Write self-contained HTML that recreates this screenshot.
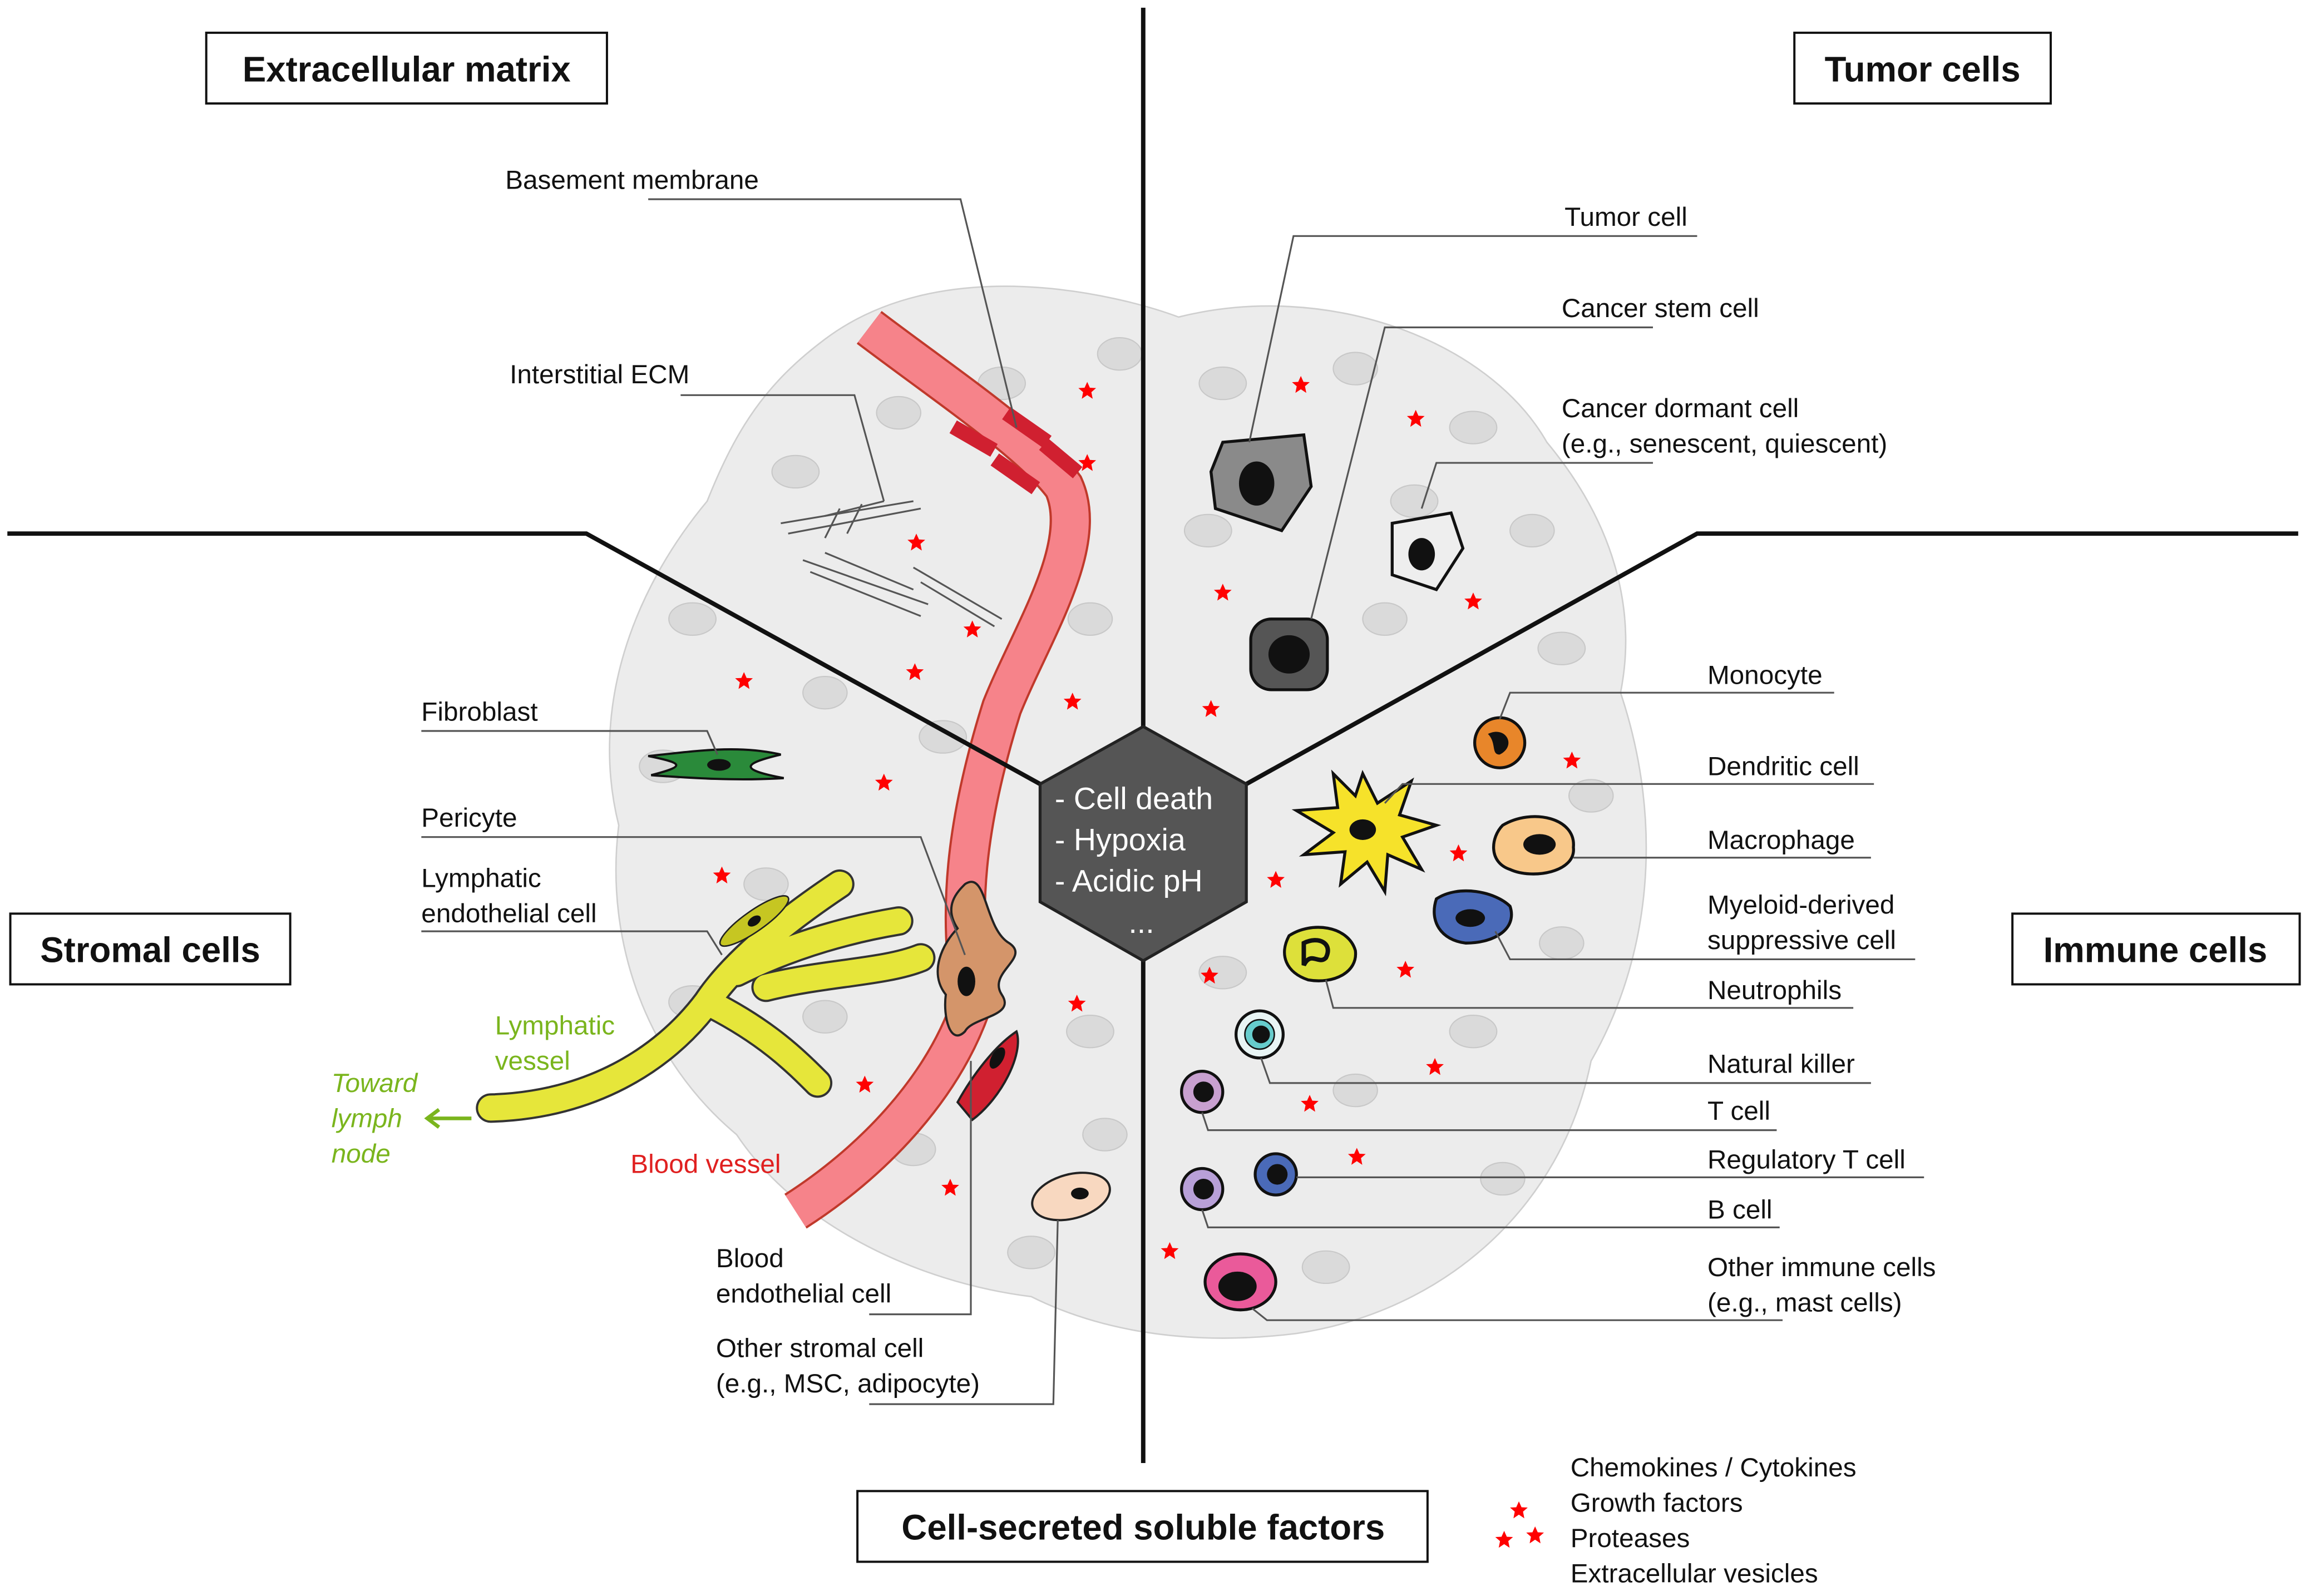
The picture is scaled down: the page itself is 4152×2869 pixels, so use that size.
<!DOCTYPE html>
<html><head><meta charset="utf-8"><style>
html,body{margin:0;padding:0;background:#fff;}
svg{display:block;}
text{font-family:"Liberation Sans",sans-serif;}
</style></head><body>
<svg width="4152" height="2869" viewBox="0 0 1568 1083" xmlns="http://www.w3.org/2000/svg">
<defs>
<path id="st" d="M0,-6 L1.8,-2 6,-1.8 2.8,1 3.7,5.5 0,3 -3.7,5.5 -2.8,1 -6,-1.8 -1.8,-2Z" fill="#f00"/>
</defs>
<rect width="1568" height="1083" fill="#fff"/>
<!-- cell cluster background -->
<path d="M560,230 C640,170 760,200 800,215 C900,190 1010,230 1050,300 C1100,360 1110,420 1100,470 C1130,560 1120,650 1080,720 C1060,820 980,890 880,905 C800,915 740,900 700,880 C620,870 540,830 500,770 C440,720 410,640 420,560 C400,480 430,400 480,340 C500,290 520,260 560,230Z" fill="#ececec" stroke="#cfcfcf" stroke-width="1"/>
<g fill="#dadada" stroke="#c8c8c8" stroke-width="0.8">
<ellipse cx="540" cy="320" rx="16" ry="11"/><ellipse cx="610" cy="280" rx="15" ry="11"/><ellipse cx="680" cy="260" rx="16" ry="11"/><ellipse cx="760" cy="240" rx="15" ry="11"/>
<ellipse cx="830" cy="260" rx="16" ry="11"/><ellipse cx="920" cy="250" rx="15" ry="11"/><ellipse cx="1000" cy="290" rx="16" ry="11"/><ellipse cx="1040" cy="360" rx="15" ry="11"/>
<ellipse cx="470" cy="420" rx="16" ry="11"/><ellipse cx="560" cy="470" rx="15" ry="11"/><ellipse cx="640" cy="500" rx="16" ry="11"/><ellipse cx="740" cy="420" rx="15" ry="11"/>
<ellipse cx="820" cy="360" rx="16" ry="11"/><ellipse cx="940" cy="420" rx="15" ry="11"/><ellipse cx="1060" cy="440" rx="16" ry="11"/><ellipse cx="1080" cy="540" rx="15" ry="11"/>
<ellipse cx="450" cy="520" rx="16" ry="11"/><ellipse cx="520" cy="600" rx="15" ry="11"/><ellipse cx="470" cy="680" rx="16" ry="11"/><ellipse cx="560" cy="690" rx="15" ry="11"/>
<ellipse cx="740" cy="700" rx="16" ry="11"/><ellipse cx="750" cy="770" rx="15" ry="11"/><ellipse cx="700" cy="850" rx="16" ry="11"/><ellipse cx="620" cy="780" rx="15" ry="11"/>
<ellipse cx="830" cy="660" rx="16" ry="11"/><ellipse cx="920" cy="740" rx="15" ry="11"/><ellipse cx="1000" cy="700" rx="16" ry="11"/><ellipse cx="1060" cy="640" rx="15" ry="11"/>
<ellipse cx="900" cy="860" rx="16" ry="11"/><ellipse cx="1020" cy="800" rx="15" ry="11"/><ellipse cx="800" cy="560" rx="15" ry="11"/><ellipse cx="960" cy="340" rx="16" ry="11"/>
</g>
<!-- ECM fibers -->
<g stroke="#555" stroke-width="1.2">
<line x1="530" y1="355" x2="620" y2="340"/><line x1="535" y1="362" x2="625" y2="345"/><line x1="560" y1="350" x2="600" y2="340"/>
<line x1="545" y1="380" x2="630" y2="410"/><line x1="550" y1="388" x2="625" y2="418"/><line x1="560" y1="375" x2="620" y2="400"/>
<line x1="620" y1="385" x2="680" y2="420"/><line x1="625" y1="395" x2="675" y2="425"/><line x1="570" y1="345" x2="560" y2="365"/><line x1="585" y1="342" x2="575" y2="362"/>
</g>
<!-- blood vessel -->
<path d="M590,222 C640,260 700,300 722,330 C740,370 700,430 680,480 C655,560 650,620 660,680 C640,740 590,790 540,822" fill="none" stroke="#c0392b" stroke-width="28"/>
<path d="M590,222 C640,260 700,300 722,330 C740,370 700,430 680,480 C655,560 650,620 660,680 C640,740 590,790 540,822" fill="none" stroke="#f6838a" stroke-width="25"/>
<g fill="#d02030"><rect x="645" y="292" width="32" height="10" transform="rotate(30 660 297)"/><rect x="680" y="285" width="34" height="10" transform="rotate(35 697 290)"/><rect x="672" y="317" width="34" height="10" transform="rotate(35 690 322)"/><rect x="705" y="306" width="30" height="10" transform="rotate(40 720 311)"/></g>
<!-- pericyte -->
<path d="M655,600 C670,590 668,630 685,640 C700,650 670,660 680,675 C690,690 660,690 655,700 C645,710 640,690 642,675 C630,660 640,640 650,630 C640,615 650,605 655,600Z" fill="#d4956a" stroke="#222" stroke-width="1.5"/>
<ellipse cx="656" cy="666" rx="6" ry="10" fill="#111"/>
<path d="M650,748 C660,730 675,710 690,700 C695,715 680,745 660,760 Z" fill="#d02030" stroke="#222" stroke-width="1.5"/>
<ellipse cx="677" cy="718" rx="4" ry="8" fill="#111" transform="rotate(30 677 718)"/>
<!-- lymphatic vessel -->
<path d="M333,752 C400,750 450,720 480,680 C500,650 540,620 570,600 M480,680 C520,700 540,720 555,735 M500,660 C540,640 580,630 610,625 M520,670 C560,660 600,660 625,650" fill="none" stroke="#333" stroke-width="20" stroke-linecap="round"/>
<path d="M333,752 C400,750 450,720 480,680 C500,650 540,620 570,600 M480,680 C520,700 540,720 555,735 M500,660 C540,640 580,630 610,625 M520,670 C560,660 600,660 625,650" fill="none" stroke="#e6e63a" stroke-width="17" stroke-linecap="round"/>
<ellipse cx="512" cy="625" rx="28" ry="7" fill="#c6c622" stroke="#222" transform="rotate(-35 512 625)"/>
<ellipse cx="512" cy="625" rx="5" ry="3" fill="#111" transform="rotate(-35 512 625)"/>
<!-- fibroblast -->
<path d="M440,513 C470,510 500,505 530,512 C505,518 500,522 532,528 C500,530 470,528 442,526 C465,520 465,518 440,513Z" fill="#2a8a3a" stroke="#111" stroke-width="1.5"/>
<ellipse cx="488" cy="519" rx="8" ry="4" fill="#111"/>
<!-- other stromal -->
<ellipse cx="727" cy="812" rx="27" ry="15" fill="#f8d8c0" stroke="#222" stroke-width="1.5" transform="rotate(-15 727 812)"/>
<ellipse cx="733" cy="810" rx="6" ry="4" fill="#111"/>
<!-- tumor cells -->
<path d="M830,300 L885,295 L890,330 L870,360 L825,345 L822,320Z" fill="#8a8a8a" stroke="#111" stroke-width="2"/>
<ellipse cx="853" cy="328" rx="12" ry="15" fill="#111"/>
<path d="M945,355 L985,348 L993,372 L975,400 L945,390Z" fill="#eee" stroke="#111" stroke-width="2"/>
<ellipse cx="965" cy="376" rx="9" ry="11" fill="#111"/>
<rect x="849" y="420" width="52" height="48" rx="14" fill="#555" stroke="#111" stroke-width="2"/>
<ellipse cx="875" cy="444" rx="14" ry="13" fill="#111"/>
<!-- immune cells -->
<circle cx="1018" cy="504" r="17" fill="#e8862a" stroke="#111" stroke-width="2"/><path d="M1010,498 C1022,492 1030,506 1018,512 C1012,512 1016,504 1010,498Z" fill="#111"/>
<path d="M925,525 L935,545 L958,530 L950,553 L975,560 L952,568 L965,590 L942,580 L940,605 L928,585 L910,600 L913,578 L885,580 L905,565 L880,550 L908,548 L905,525 L920,540Z" fill="#f6e22a" stroke="#111" stroke-width="2"/>
<ellipse cx="925" cy="563" rx="9" ry="7" fill="#111"/>
<path d="M1020,560 C1040,548 1070,555 1068,575 C1070,592 1040,597 1025,590 C1010,585 1012,568 1020,560Z" fill="#f8c88a" stroke="#111" stroke-width="2"/>
<ellipse cx="1045" cy="573" rx="11" ry="7" fill="#111"/>
<path d="M975,610 C990,600 1015,605 1025,615 C1030,630 1015,640 995,640 C978,638 970,625 975,610Z" fill="#4a6ab8" stroke="#111" stroke-width="2"/>
<ellipse cx="998" cy="623" rx="10" ry="6" fill="#111"/>
<path d="M875,635 C890,625 915,628 920,645 C922,660 905,668 888,665 C873,660 868,648 875,635Z" fill="#dde03a" stroke="#111" stroke-width="2"/>
<path d="M885,640 C895,635 905,640 900,650 C895,655 890,645 885,655Z" fill="none" stroke="#111" stroke-width="3"/>
<circle cx="855" cy="702" r="16" fill="#e8f4f4" stroke="#111" stroke-width="2"/><circle cx="855" cy="702" r="10" fill="#6cc" stroke="#111"/><circle cx="856" cy="702" r="6" fill="#111"/>
<circle cx="816" cy="741" r="14" fill="#c8a0d0" stroke="#111" stroke-width="2"/><circle cx="817" cy="741" r="7" fill="#111"/>
<circle cx="866" cy="797" r="14" fill="#4a6ab8" stroke="#111" stroke-width="2"/><circle cx="867" cy="797" r="7" fill="#111"/>
<circle cx="816" cy="807" r="14" fill="#b8a0d8" stroke="#111" stroke-width="2"/><circle cx="817" cy="807" r="7" fill="#111"/>
<ellipse cx="842" cy="870" rx="24" ry="19" fill="#ea5a9a" stroke="#111" stroke-width="2"/><ellipse cx="840" cy="873" rx="13" ry="10" fill="#111"/>
<!-- stars -->
<g>
<use href="#st" x="738" y="265"/><use href="#st" x="738" y="314"/><use href="#st" x="622" y="368"/><use href="#st" x="660" y="427"/><use href="#st" x="621" y="456"/><use href="#st" x="505" y="462"/><use href="#st" x="728" y="476"/><use href="#st" x="600" y="531"/><use href="#st" x="490" y="594"/>
<use href="#st" x="587" y="736"/><use href="#st" x="731" y="681"/><use href="#st" x="645" y="806"/><use href="#st" x="883" y="261"/><use href="#st" x="961" y="284"/><use href="#st" x="830" y="402"/><use href="#st" x="1000" y="408"/><use href="#st" x="822" y="481"/>
<use href="#st" x="1067" y="516"/><use href="#st" x="990" y="579"/><use href="#st" x="866" y="597"/><use href="#st" x="954" y="658"/><use href="#st" x="821" y="662"/><use href="#st" x="974" y="724"/><use href="#st" x="889" y="749"/><use href="#st" x="921" y="785"/><use href="#st" x="794" y="849"/>
<use href="#st" x="1031" y="1025"/><use href="#st" x="1021" y="1045"/><use href="#st" x="1042" y="1042"/>
</g>
<!-- dividing lines -->
<g stroke="#111" stroke-width="3" fill="none">
<line x1="776" y1="5" x2="776" y2="495"/><line x1="776" y1="650" x2="776" y2="993"/>
<polyline points="5,362 398,362 706,532"/><polyline points="1560,362 1152,362 846,532"/>
</g>
<!-- hexagon -->
<polygon points="776,493 846,532 846,612 776,652 706,612 706,532" fill="#555" stroke="#222" stroke-width="2"/>
<g fill="#fff" font-size="21"><text x="716" y="549">- Cell death</text><text x="716" y="577">- Hypoxia</text><text x="716" y="605">- Acidic pH</text><text x="766" y="633">...</text></g>
<!-- leader lines -->
<g stroke="#555" stroke-width="1.2" fill="none">
<polyline points="440,135 652,135 690,290"/><polyline points="462,268 580,268 600,340"/>
<polyline points="1152,160 878,160 848,300"/><polyline points="1122,222 940,222 890,420"/><polyline points="1122,314 975,314 965,345"/>
<polyline points="1245,470 1025,470 1018,488"/><polyline points="1272,532 952,532 940,545"/><polyline points="1270,582 1068,582"/>
<polyline points="1300,651 1025,651 1015,632"/><polyline points="1258,684 905,684 900,665"/><polyline points="1270,735 862,735 856,718"/>
<polyline points="1206,767 820,767 816,755"/><polyline points="1306,799 880,799"/><polyline points="1208,833 820,833 816,821"/><polyline points="1210,896 860,896 850,888"/>
<polyline points="286,496 480,496 487,512"/><polyline points="286,568 625,568 655,648"/><polyline points="286,632 480,632 490,648"/>
<polyline points="590,892 659,892 659,720"/><polyline points="590,953 715,953 718,828"/>
</g>
<!-- labels -->
<g font-size="18" fill="#111">
<text x="343" y="128">Basement membrane</text><text x="346" y="260">Interstitial ECM</text>
<text x="1062" y="153">Tumor cell</text><text x="1060" y="215">Cancer stem cell</text><text x="1060" y="283">Cancer dormant cell</text><text x="1060" y="307">(e.g., senescent, quiescent)</text>
<text x="1159" y="464">Monocyte</text><text x="1159" y="526">Dendritic cell</text><text x="1159" y="576">Macrophage</text><text x="1159" y="620">Myeloid-derived</text><text x="1159" y="644">suppressive cell</text>
<text x="1159" y="678">Neutrophils</text><text x="1159" y="728">Natural killer</text><text x="1159" y="760">T cell</text><text x="1159" y="793">Regulatory T cell</text><text x="1159" y="827">B cell</text>
<text x="1159" y="866">Other immune cells</text><text x="1159" y="890">(e.g., mast cells)</text>
<text x="286" y="489">Fibroblast</text><text x="286" y="561">Pericyte</text><text x="286" y="602">Lymphatic</text><text x="286" y="626">endothelial cell</text>
<text x="486" y="860">Blood</text><text x="486" y="884">endothelial cell</text><text x="486" y="921">Other stromal cell</text><text x="486" y="945">(e.g., MSC, adipocyte)</text>
<text x="1066" y="1002">Chemokines / Cytokines</text><text x="1066" y="1026">Growth factors</text><text x="1066" y="1050">Proteases</text><text x="1066" y="1074">Extracellular vesicles</text>
</g>
<g font-size="18" fill="#7ab51d"><text x="336" y="702">Lymphatic</text><text x="336" y="726">vessel</text>
<g font-style="italic"><text x="225" y="741">Toward</text><text x="225" y="765">lymph</text><text x="225" y="789">node</text></g></g>
<g stroke="#7ab51d" stroke-width="2.5" fill="none"><line x1="292" y1="759" x2="320" y2="759"/><polyline points="298,753 290,759 298,765"/></g>
<text x="428" y="796" font-size="18" fill="#e02020">Blood vessel</text>
<!-- title boxes -->
<g fill="#fff" stroke="#111" stroke-width="1.5">
<rect x="140" y="22" width="272" height="48"/><rect x="1218" y="22" width="174" height="48"/><rect x="7" y="620" width="190" height="48"/><rect x="1366" y="620" width="195" height="48"/><rect x="582" y="1012" width="387" height="48"/>
</g>
<g font-size="24" font-weight="bold" fill="#111" text-anchor="middle">
<text x="276" y="55">Extracellular matrix</text><text x="1305" y="55">Tumor cells</text><text x="102" y="653">Stromal cells</text><text x="1463" y="653">Immune cells</text><text x="776" y="1045">Cell-secreted soluble factors</text>
</g>
</svg>
</body></html>
